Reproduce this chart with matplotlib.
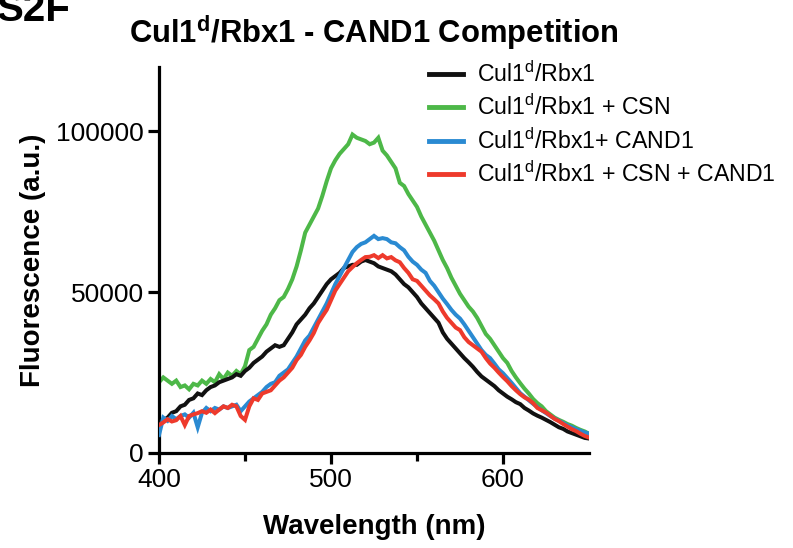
import numpy as np
import matplotlib
matplotlib.use("Agg")
import matplotlib.pyplot as plt
from matplotlib.ticker import FixedLocator

plt.rcParams['font.family'] = ['Liberation Sans', 'DejaVu Sans']

# Wavelength grid (nm)
wavelength = np.arange(400, 650.1, 2.5)

# Fluorescence values (thousands a.u.)
cul1_rbx1 = [
    9.3, 10.2, 11.0, 12.5, 13.0, 14.5, 15.0, 16.5, 17.0, 18.5,
    18.0, 19.5, 20.5, 21.0, 22.0, 22.5, 23.0, 23.5, 24.5, 24.0,
    25.5, 26.5, 28.0, 29.0, 30.0, 31.5, 32.5, 33.5, 33.0, 33.5,
    35.5, 37.5, 40.0, 41.5, 43.0, 45.0, 46.5, 48.5, 50.5, 52.5,
    54.0, 55.0, 56.0, 57.5, 58.0, 58.5, 58.5, 59.5, 60.0, 59.5,
    59.0, 58.0, 57.5, 57.0, 56.5, 55.5, 54.0, 52.5, 51.5, 50.0,
    48.5, 46.5, 45.0, 43.5, 42.0, 40.5, 37.5, 35.5, 34.0, 32.5,
    31.0, 29.5, 28.2, 26.8, 25.2, 23.8, 22.8, 21.8, 20.8, 19.5,
    18.5, 17.5, 16.7, 15.8, 15.2, 14.0, 13.2, 12.3, 11.6, 11.0,
    10.3, 9.6, 8.8, 8.0, 7.5, 6.7, 6.2, 5.7, 5.2, 4.7, 4.5,
]
cul1_rbx1_csn = [
    22.0, 23.5, 22.5, 21.5, 22.5, 20.5, 21.0, 19.8, 21.5, 21.0,
    22.5, 21.5, 23.0, 22.0, 24.5, 23.0, 25.0, 24.0, 25.5, 24.5,
    27.0, 32.0, 33.0, 35.5, 38.0, 40.0, 43.0, 45.0, 47.5, 48.5,
    51.0, 54.0, 58.0, 63.0, 68.5, 71.0, 73.5, 76.0, 80.0, 84.5,
    88.5, 91.0, 93.0, 94.5, 96.0, 99.0, 98.0, 97.5, 97.0, 96.0,
    96.5, 98.0, 94.0, 92.5, 90.5, 88.5, 84.0, 83.0, 80.5, 78.5,
    76.5, 73.5, 71.0, 68.5, 66.0, 63.0, 60.0, 57.5, 54.5, 52.0,
    49.5, 47.5, 45.5, 44.0, 42.0, 39.5, 37.0, 35.5, 33.5, 31.5,
    29.5, 28.0, 25.5, 23.5, 21.7, 20.0, 18.5, 16.8, 15.5, 14.5,
    13.0, 12.0, 11.0, 10.3, 9.7, 9.0, 8.5, 7.8, 7.2, 6.7, 6.0,
]
cul1_rbx1_cand1 = [
    5.6, 11.0, 10.0, 11.5, 10.5, 11.5, 12.0, 11.0, 12.5, 8.0,
    12.5, 14.0, 13.0, 14.0, 13.5, 14.5, 14.0, 14.5, 15.0, 13.0,
    14.5, 16.0, 17.0, 18.0, 19.0, 20.5, 21.5, 22.0, 24.0, 25.0,
    26.0, 28.0, 30.0, 32.5, 35.0, 36.5, 39.0, 41.5, 44.0, 46.5,
    49.5, 52.5, 55.0, 57.5, 60.0, 62.5, 64.0, 65.0, 65.5, 66.5,
    67.5, 66.5, 66.8, 66.5, 65.5, 65.2, 64.0, 63.0, 61.0, 59.5,
    58.5, 57.0, 56.0, 53.5, 52.0, 50.0, 48.0, 46.3, 44.5, 43.0,
    41.8, 40.0, 38.0, 36.0, 34.0, 32.0, 30.5, 29.5, 27.8, 26.0,
    24.8, 23.3, 21.8, 20.2, 18.6, 17.5, 16.4, 15.3, 14.3, 13.3,
    12.4, 11.5, 10.7, 10.0, 9.3, 8.6, 8.0, 7.4, 6.9, 6.4, 6.0,
]
cul1_rbx1_csn_cand1 = [
    8.7, 9.5, 10.5, 9.8, 10.2, 11.5, 8.7, 11.5, 12.0, 12.4,
    13.0, 12.5, 13.5, 12.4, 13.5, 14.5, 14.0, 15.0, 14.5, 11.5,
    10.3, 14.5, 17.0, 16.5, 18.5, 19.0, 19.5, 21.0, 22.5, 23.5,
    25.0, 26.5, 28.9, 30.5, 33.0, 35.0, 37.3, 40.4, 42.5, 44.5,
    47.5, 50.5, 52.5, 54.5, 56.5, 57.8, 59.0, 60.0, 60.9, 61.0,
    61.5, 60.6, 61.5, 60.5, 60.9, 59.9, 59.3, 57.5, 56.0, 54.0,
    53.5, 52.0, 50.5, 49.0, 47.8, 46.5, 44.0, 42.0, 40.5, 39.0,
    38.2, 36.0, 34.5, 33.5, 32.5, 31.5, 29.5, 27.8, 26.5, 25.0,
    23.6, 22.3, 20.8, 19.5, 18.3, 17.3, 16.6, 15.5, 14.0, 13.3,
    12.6, 11.6, 10.6, 9.9, 9.0, 8.2, 7.4, 6.8, 6.0, 5.3, 4.8,
]

series_labels = ["Cul1$^{\\mathregular{d}}$/Rbx1",
                 "Cul1$^{\\mathregular{d}}$/Rbx1 + CSN",
                 "Cul1$^{\\mathregular{d}}$/Rbx1+ CAND1",
                 "Cul1$^{\\mathregular{d}}$/Rbx1 + CSN + CAND1"]
series_values = [cul1_rbx1, cul1_rbx1_csn, cul1_rbx1_cand1, cul1_rbx1_csn_cand1]
series_colors = ["#111111", "#4db848", "#2a8ad2", "#ee3a2c"]
series_z = [3, 2, 4, 5]

x_ticks = [400, 500, 600]
y_ticks = [0, 50000, 100000]

fig = plt.figure(figsize=(7.93, 5.48), dpi=100)
ax = fig.add_axes([159/793, 1-453/548, (589-159)/793, (453-67)/548])

for lab, vals, col, z in zip(series_labels, series_values, series_colors, series_z):
    ax.plot(wavelength, np.array(vals) * 1000, color=col, lw=2.9, label=lab,
            zorder=z, solid_joinstyle='miter')

ax.set_xlim(400, 650)
ax.set_ylim(0, 120000)
ax.xaxis.set_major_locator(FixedLocator(x_ticks))
ax.xaxis.set_minor_locator(FixedLocator([450, 550]))
ax.yaxis.set_major_locator(FixedLocator(y_ticks))
ax.set_xticklabels([str(t) for t in x_ticks])
ax.set_yticklabels([str(t) for t in y_ticks])

for s in ['top', 'right']:
    ax.spines[s].set_visible(False)
for s in ['left', 'bottom']:
    ax.spines[s].set_linewidth(2.3)
ax.tick_params(axis='both', which='major', direction='out', length=8, width=2.3,
               labelsize=19, pad=3)
ax.tick_params(axis='x', which='minor', direction='out', length=6, width=2.3)

ax.set_xlabel("Wavelength (nm)", fontsize=20, fontweight='bold', labelpad=16)
ax.set_ylabel("Fluorescence (a.u.)", fontsize=20, fontweight='bold', labelpad=7)
ax.set_title("Cul1$^{\\mathregular{d}}$/Rbx1 - CAND1 Competition", fontsize=22.3,
             fontweight='bold', pad=17)

fig.text(-0.004, 1 - 21/548, "S2F", fontsize=29, fontweight='bold', va='baseline', ha='left')

leg = ax.legend(loc='upper left', bbox_to_anchor=((420-159)/430, 1.039), frameon=False,
                fontsize=16.7, handlelength=1.45, handletextpad=0.6, labelspacing=0.33,
                borderaxespad=0.0)
for line in leg.get_lines():
    line.set_linewidth(3.5)

fig.savefig("out.png", dpi=100)
